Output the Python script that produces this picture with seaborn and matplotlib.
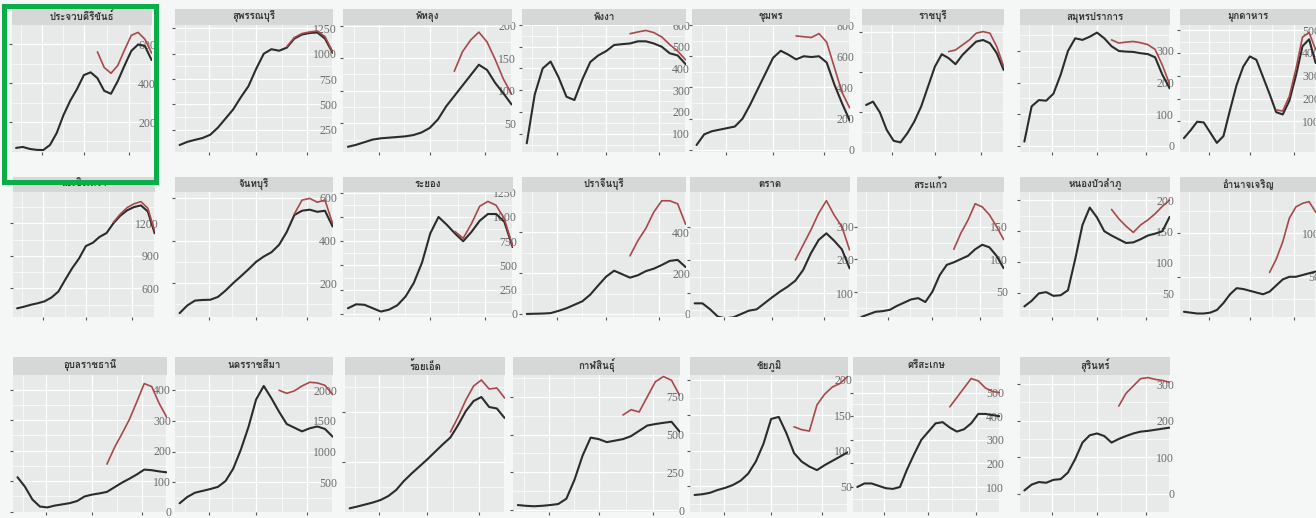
import matplotlib
matplotlib.use("Agg")
import matplotlib.pyplot as plt
import matplotlib.patches as mpatches
import matplotlib.font_manager as fm
from matplotlib.ft2font import FT2Font
from matplotlib.ticker import FixedLocator, NullFormatter
import pandas as pd
import seaborn as sns

# ---- data ----
days = list(range(21))

provinces = [
    'ประจวบคีรีขันธ์', 'สุพรรณบุรี', 'พัทลุง', 'พังงา', 'ชุมพร', 'ราชบุรี', 'สมุทรปราการ', 'มุกดาหาร',
    'ฉะเชิงเทรา', 'จันทบุรี', 'ระยอง', 'ปราจีนบุรี', 'ตราด', 'สระแก้ว', 'หนองบัวลำภู', 'อำนาจเจริญ',
    'อุบลราชธานี', 'นครราชสีมา', 'ร้อยเอ็ด', 'กาฬสินธุ์', 'ชัยภูมิ', 'ศรีสะเกษ', 'สุรินทร์',
]

p01_black = [67, 72, 62, 57, 56, 82, 144, 236, 310, 370, 441, 455, 425, 360, 345, 410, 490, 565, 598, 590, 518]
p01_red = [None] * 12 + [560, 480, 450, 490, 570, 645, 660, 625, 554]
p02_black = [99, 130, 150, 168, 200, 270, 360, 450, 570, 680, 850, 1000, 1045, 1030, 1060, 1150, 1190, 1205, 1210, 1150, 1010]
p02_red = [None] * 14 + [1070, 1160, 1200, 1215, 1225, 1170, 1020]
p03_black = [14, 17, 21, 25, 27, 28, 29, 30, 32, 36, 43, 56, 76, 92, 108, 124, 140, 132, 112, 96, 79]
p03_red = [None] * 13 + [130, 160, 178, 190, 175, 148, 118, 95]
p04_black = [56, 280, 400, 432, 360, 270, 255, 350, 430, 460, 480, 508, 512, 515, 525, 525, 515, 500, 470, 460, 420]
p04_red = [None] * 13 + [560, 568, 575, 565, 545, 510, 480, 440]
p05_black = [32, 100, 120, 130, 140, 150, 200, 290, 390, 490, 590, 635, 610, 580, 600, 595, 600, 560, 420, 300, 190]
p05_red = [None] * 13 + [730, 725, 720, 745, 690, 530, 370, 270]
p06_black = [237, 254, 200, 112, 58, 50, 96, 154, 229, 329, 429, 491, 471, 441, 487, 521, 554, 562, 546, 496, 412]
p06_red = [None] * 12 + [504, 512, 537, 562, 596, 604, 596, 529, 429]
p07_black = [14, 125, 145, 143, 165, 225, 300, 340, 335, 345, 358, 340, 315, 300, 298, 297, 293, 290, 280, 225, 182]
p07_red = [None] * 12 + [335, 325, 328, 330, 326, 320, 305, 255, 195]
p08_black = [26, 60, 98, 95, 50, 5, 35, 150, 260, 340, 385, 370, 295, 220, 140, 130, 190, 300, 430, 460, 356]
p08_red = [None] * 14 + [150, 145, 210, 330, 470, 490, 414]

p09_black = [415, 430, 448, 462, 480, 515, 570, 680, 785, 875, 990, 1020, 1075, 1110, 1200, 1270, 1320, 1350, 1365, 1310, 1108]
p09_red = [None] * 14 + [1210, 1285, 1345, 1380, 1400, 1340, 1130]
p10_black = [59, 95, 118, 121, 122, 135, 165, 200, 232, 265, 300, 325, 345, 380, 440, 520, 540, 545, 535, 540, 466]
p10_red = [None] * 15 + [525, 590, 598, 580, 590, 480]
p11_black = [59, 100, 95, 60, 25, 45, 90, 180, 320, 530, 830, 1000, 920, 830, 750, 845, 960, 1030, 1030, 950, 690]
p11_red = [None] * 13 + [850, 780, 930, 1110, 1160, 1120, 980, 700]
p12_black = [0, 1, 2, 4, 15, 28, 45, 62, 95, 140, 183, 212, 195, 178, 190, 210, 222, 240, 260, 265, 230]
p12_red = [None] * 13 + [285, 360, 420, 500, 555, 555, 540, 440]
p13_black = [70, 70, 52, 30, 25, 28, 38, 48, 52, 70, 88, 105, 120, 138, 170, 220, 260, 280, 258, 232, 175]
p13_red = [None] * 13 + [200, 245, 290, 340, 378, 335, 300, 230]
p14_black = [11, 15, 19, 20, 22, 28, 33, 38, 40, 34, 50, 75, 91, 95, 100, 105, 115, 122, 118, 105, 86]
p14_red = [None] * 13 + [115, 140, 160, 185, 180, 168, 150, 130]
p15_black = [29, 38, 50, 52, 46, 47, 55, 105, 160, 188, 172, 150, 143, 137, 131, 132, 137, 143, 146, 150, 173]
p15_red = [None] * 12 + [185, 170, 158, 148, 160, 168, 178, 190, 200]
p16_black = [10, 9, 8, 8, 9, 12, 20, 30, 37, 36, 34, 32, 30, 33, 40, 47, 50, 50, 52, 54, 56]
p16_red = [None] * 13 + [55, 70, 90, 117, 130, 134, 136, 124]

p17_black = [113, 82, 40, 17, 14, 20, 24, 28, 35, 50, 56, 60, 65, 80, 95, 108, 122, 138, 136, 132, 129]
p17_red = [None] * 12 + [156, 210, 255, 302, 360, 420, 410, 355, 310]
p18_black = [158, 260, 330, 360, 390, 425, 520, 720, 1030, 1400, 1850, 2070, 1870, 1650, 1450, 1390, 1330, 1380, 1410, 1370, 1244]
p18_red = [None] * 13 + [2000, 1950, 1990, 2070, 2130, 2120, 2080, 1930]
p19_black = [37, 55, 75, 95, 120, 160, 220, 310, 385, 455, 525, 600, 675, 745, 870, 1010, 1110, 1150, 1050, 1035, 940]
p19_red = [None] * 13 + [800, 950, 1120, 1260, 1320, 1230, 1240, 1140]
p20_black = [33, 28, 25, 28, 33, 40, 75, 200, 360, 480, 470, 450, 460, 470, 490, 525, 560, 570, 578, 585, 520]
p20_red = [None] * 13 + [630, 665, 650, 750, 850, 885, 860, 760]
p21_black = [38, 39, 41, 45, 48, 52, 58, 68, 85, 110, 145, 148, 125, 97, 85, 78, 73, 80, 86, 92, 98]
p21_red = [None] * 13 + [134, 130, 128, 165, 180, 190, 195, 205]
p22_black = [100, 115, 115, 105, 95, 92, 100, 175, 240, 300, 335, 370, 375, 352, 335, 345, 370, 410, 410, 405, 400]
p22_red = [None] * 13 + [440, 480, 520, 560, 550, 520, 505, 500]
p23_black = [9, 25, 32, 30, 38, 40, 58, 95, 140, 160, 165, 158, 140, 150, 158, 165, 170, 172, 175, 178, 181]
p23_red = [None] * 13 + [240, 275, 295, 315, 318, 313, 310, 305]

black_series = [p01_black, p02_black, p03_black, p04_black, p05_black, p06_black, p07_black, p08_black,
                p09_black, p10_black, p11_black, p12_black, p13_black, p14_black, p15_black, p16_black,
                p17_black, p18_black, p19_black, p20_black, p21_black, p22_black, p23_black]
red_series = [p01_red, p02_red, p03_red, p04_red, p05_red, p06_red, p07_red, p08_red,
              p09_red, p10_red, p11_red, p12_red, p13_red, p14_red, p15_red, p16_red,
              p17_red, p18_red, p19_red, p20_red, p21_red, p22_red, p23_red]

y_ticks = [
    [200, 400, 600], [250, 500, 750, 1000, 1250], [50, 100, 150, 200], [100, 200, 300, 400, 500, 600],
    [0, 200, 400, 600, 800], [200, 400, 600], [0, 100, 200, 300], [100, 200, 300, 400, 500],
    [600, 900, 1200], [200, 400, 600], [0, 250, 500, 750, 1000, 1250], [0, 200, 400],
    [100, 200, 300], [50, 100, 150], [50, 100, 150, 200], [50, 100],
    [0, 100, 200, 300, 400], [500, 1000, 1500, 2000], [500, 1000], [0, 250, 500, 750],
    [50, 100, 150, 200], [100, 200, 300, 400, 500], [0, 100, 200, 300],
]
hidden_labels = {5, 18}

# ---- layout (pixels of the 1316x518 canvas) ----
W, H = 1316, 518
y_limits = [
    (46, 698), (30, 1284), (6, 201), (16, 600), (-13, 800), (2, 637), (-19, 382), (-35, 523),
    (335, 1489), (41, 628), (-31, 1257), (-15, 598), (29, 404), (11, 203), (12, 213), (4, 147),
    (-1, 448), (16, 2249), (0, 1370), (-13, 895), (14, 207), (-6, 575), (-50, 325),
]
col_edges = [
    [(12, 152), (175, 333), (343, 512), (522, 686), (692, 850), (862, 1004), (1020, 1170), (1180, 1316)],
    [(13, 155), (175, 333), (343, 513), (522, 686), (690, 850), (857, 1004), (1020, 1170), (1180, 1316)],
    [(13, 167), (175, 333), (345, 505), (513, 680), (690, 848), (853, 1000), (1020, 1170)],
]
row_edges = [(9, 25, 152), (177, 192, 317), (357, 375, 512)]

BLACK = '#2b2b2b'
RED = '#a8484a'
PANEL = '#e8eaea'
STRIP = '#d6d8d8'


def find_thai_font():
    for entry in fm.fontManager.ttflist:
        try:
            if 0x0E01 in FT2Font(entry.fname).get_charmap():
                return entry.name
        except Exception:
            continue
    return None


sns.set_theme(style='darkgrid')
thai = find_thai_font()
strip_family = [thai, 'DejaVu Sans'] if thai else ['DejaVu Sans']
plt.rcParams['font.family'] = ['Liberation Serif', 'DejaVu Serif']

fig = plt.figure(figsize=(W / 100, H / 100), dpi=100)
fig.patch.set_facecolor('#f5f6f6')


def frac_rect(x0, x1, ytop, ybot):
    return [x0 / W, 1 - ybot / H, (x1 - x0) / W, (ybot - ytop) / H]


i = 0
for r, cols in enumerate(col_edges):
    s_top, p_top, p_bot = row_edges[r]
    for (x0, x1) in cols:
        ax = fig.add_axes(frac_rect(x0, x1, p_top, p_bot))
        sax = fig.add_axes(frac_rect(x0, x1, s_top, p_top))
        sax.set_facecolor(STRIP)
        sax.set_xticks([])
        sax.set_yticks([])
        sax.grid(False)
        for sp in sax.spines.values():
            sp.set_visible(False)
        sax.text(0.5, 0.5, provinces[i], ha='center', va='center', fontsize=7,
                 fontweight='bold', color='#333333', family=strip_family,
                 transform=sax.transAxes)

        df = pd.DataFrame({'day': days, 'black': black_series[i], 'red': red_series[i]}).astype(float)
        sns.lineplot(data=df, x='day', y='black', color=BLACK, linewidth=1.5,
                     estimator=None, ax=ax)
        sns.lineplot(data=df.dropna(), x='day', y='red', color=RED, linewidth=1.2,
                     estimator=None, ax=ax)

        ax.set_facecolor(PANEL)
        ax.set_xlim(-0.6, 20.05)
        ax.set_ylim(*y_limits[i])
        ax.set_xlabel('')
        ax.set_ylabel('')
        for sp in ax.spines.values():
            sp.set_visible(False)

        ticks = y_ticks[i]
        step = ticks[1] - ticks[0]
        ax.xaxis.set_major_locator(FixedLocator([3.8, 10.0, 16.7]))
        ax.xaxis.set_minor_locator(FixedLocator([0.7, 6.9, 13.35, 19.9]))
        ax.yaxis.set_major_locator(FixedLocator(ticks))
        ax.yaxis.set_minor_locator(FixedLocator([t - step / 2 for t in ticks] + [ticks[-1] + step / 2]))
        ax.xaxis.set_major_formatter(NullFormatter())
        ax.grid(which='major', color='white', linewidth=0.9)
        ax.grid(which='minor', color='white', linewidth=0.45)
        ax.tick_params(axis='x', which='major', bottom=True, length=2, width=0.8, color='#555555')
        ax.tick_params(axis='x', which='minor', bottom=False)
        ax.tick_params(axis='y', which='minor', left=False, right=False)
        ax.tick_params(axis='y', which='major', left=True, right=False, labelleft=False,
                       labelright=i not in hidden_labels, length=2, width=0.8,
                       color='#555555', labelcolor='#6a6a6a', labelsize=8.5, pad=1)
        for lbl in ax.get_yticklabels():
            lbl.set_horizontalalignment('right')
        i += 1

# green highlight around the first panel
fig.patches.append(mpatches.Rectangle((4 / W, 1 - 182 / H), 152 / W, 176 / H,
                                      transform=fig.transFigure, fill=False,
                                      edgecolor='#0aae48', linewidth=3.6))

fig.savefig('out.png', dpi=100, facecolor=fig.get_facecolor())
